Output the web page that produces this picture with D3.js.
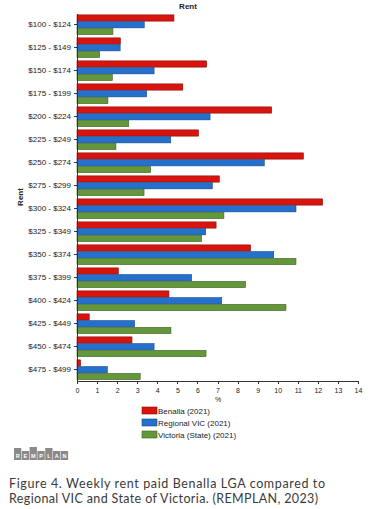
<!DOCTYPE html>
<html>
<head>
<meta charset="utf-8">
<script src="https://cdn.jsdelivr.net/npm/d3@7"></script>
<style>
body { margin: 0; background: #fff; }
svg text { font-family: "Liberation Sans", Arial, sans-serif; fill: #222; }
.axis path, .axis line { stroke: #333; shape-rendering: crispEdges; }
</style>
</head>
<body>
<div id="canvas"></div>
<script>
var categories = ['$100 - $124','$125 - $149','$150 - $174','$175 - $199','$200 - $224',
    '$225 - $249','$250 - $274','$275 - $299','$300 - $324','$325 - $349','$350 - $374',
    '$375 - $399','$400 - $424','$425 - $449','$450 - $474','$475 - $499'];
var seriesNames = ['Benalla (2021)','Regional VIC (2021)','Victoria (State) (2021)'];
var benalla  = [4.83,2.16,6.46,5.27,9.70,6.05,11.28,7.09,12.24,6.93,8.65,2.06,4.58,0.61,2.74,0.18];
var regional = [3.35,2.15,3.84,3.47,6.63,4.67,9.33,6.74,10.91,6.41,9.80,5.71,7.21,2.87,3.84,1.51];
var victoria = [1.79,1.13,1.76,1.54,2.58,1.94,3.67,3.34,7.32,6.21,10.91,8.40,10.41,4.68,6.43,3.15];
var xTicks = d3.range(0, 15);
var fills = ['#d7140e','#2470cc','#64963c'];
var strokes = ['#8c0c08','#17498a','#3e6424'];

var W = 377, H = 509;
var m = {t:13, l:77, r:19, b:128};

var svg = d3.select('#canvas').append('svg')
    .attr('width', W).attr('height', H);

var x = d3.scaleLinear().domain([0,14]).range([m.l, W - m.r]);
var y = d3.scaleBand().domain(categories).range([m.t, H - m.b]).paddingInner(0.12).paddingOuter(0.06);
var sub = d3.scaleBand().domain([0,1,2]).range([0, y.bandwidth()]);

var rows = categories.map(function(c, i){
    return {cat:c, vals:[benalla[i], regional[i], victoria[i]]};
});

var groups = svg.selectAll('.row').data(rows).enter()
    .append('g').attr('class','row')
    .attr('transform', function(d){ return 'translate(0,' + y(d.cat) + ')'; });

groups.selectAll('rect')
    .data(function(d){ return d.vals; })
    .enter().append('rect')
    .attr('x', x(0))
    .attr('y', function(d, j){ return sub(j) + 0.5; })
    .attr('width', function(d){ return x(d) - x(0); })
    .attr('height', sub.bandwidth() - 0.5)
    .attr('fill', function(d, j){ return fills[j]; })
    .attr('stroke', function(d, j){ return strokes[j]; })
    .attr('stroke-width', 0.6);

// axes
var xAxis = svg.append('g').attr('class','axis')
    .attr('transform','translate(0,' + (H - m.b) + ')')
    .call(d3.axisBottom(x).tickValues(xTicks).tickSize(3).tickSizeOuter(0));
xAxis.selectAll('text').style('font-size','7px').attr('dy','0.9em');

var yAxis = svg.append('g').attr('class','axis')
    .attr('transform','translate(' + m.l + ',0)')
    .call(d3.axisLeft(y).tickSize(3).tickSizeOuter(0));
yAxis.selectAll('text').style('font-size','8px');

// titles
svg.append('text').attr('x', 188).attr('y', 9).attr('text-anchor','middle')
    .style('font-size','8px').style('font-weight','bold').text('Rent');
svg.append('text').attr('transform','translate(23,' + ((m.t + H - m.b)/2) + ') rotate(-90)')
    .attr('text-anchor','middle').style('font-size','8px').style('font-weight','bold').text('Rent');
svg.append('text').attr('x', 218).attr('y', 402).attr('text-anchor','middle')
    .style('font-size','7px').text('%');

// legend
var legend = svg.selectAll('.leg').data(seriesNames).enter()
    .append('g').attr('class','leg')
    .attr('transform', function(d, i){ return 'translate(142,' + (407 + i*12) + ')'; });
legend.append('rect').attr('width', 15).attr('height', 7)
    .attr('fill', function(d, i){ return fills[i]; })
    .attr('stroke', function(d, i){ return strokes[i]; }).attr('stroke-width', 0.6);
legend.append('text').attr('x', 16).attr('y', 6.5)
    .style('font-size','8px').text(function(d){ return d; });

// REMPLAN logo
var logoLetters = ['R','E','M','P','L','A','N'];
var blockH = [12,9,13,9,12,9,9];
var logo = svg.append('g').attr('transform','translate(14,446)');
logo.selectAll('rect').data(logoLetters).enter().append('rect')
    .attr('x', function(d, i){ return i*7.8; })
    .attr('y', function(d, i){ return 14 - blockH[i]; })
    .attr('width', 7.3).attr('height', function(d, i){ return blockH[i]; })
    .attr('fill', '#8a8a8a');
logo.selectAll('text').data(logoLetters).enter().append('text')
    .attr('x', function(d, i){ return i*7.8 + 3.65; }).attr('y', 12.3)
    .attr('text-anchor','middle').style('font-size','5.5px').style('font-weight','bold')
    .style('fill','#fff').text(function(d){ return d; });

// caption
var caption = ['Figure 4. Weekly rent paid Benalla LGA compared to',
    'Regional VIC and State of Victoria. (REMPLAN, 2023)'];
var capWidth = [316, 309];
svg.selectAll('.cap').data(caption).enter().append('text')
    .attr('class','cap').attr('x', 9).attr('y', function(d, i){ return 488 + i*15; })
    .attr('textLength', function(d, i){ return capWidth[i]; })
    .attr('lengthAdjust', 'spacing')
    .style('font-family','Lato, sans-serif').style('font-size','12.5px')
    .style('fill','#3a3a3a').text(function(d){ return d; });
</script>
</body>
</html>
